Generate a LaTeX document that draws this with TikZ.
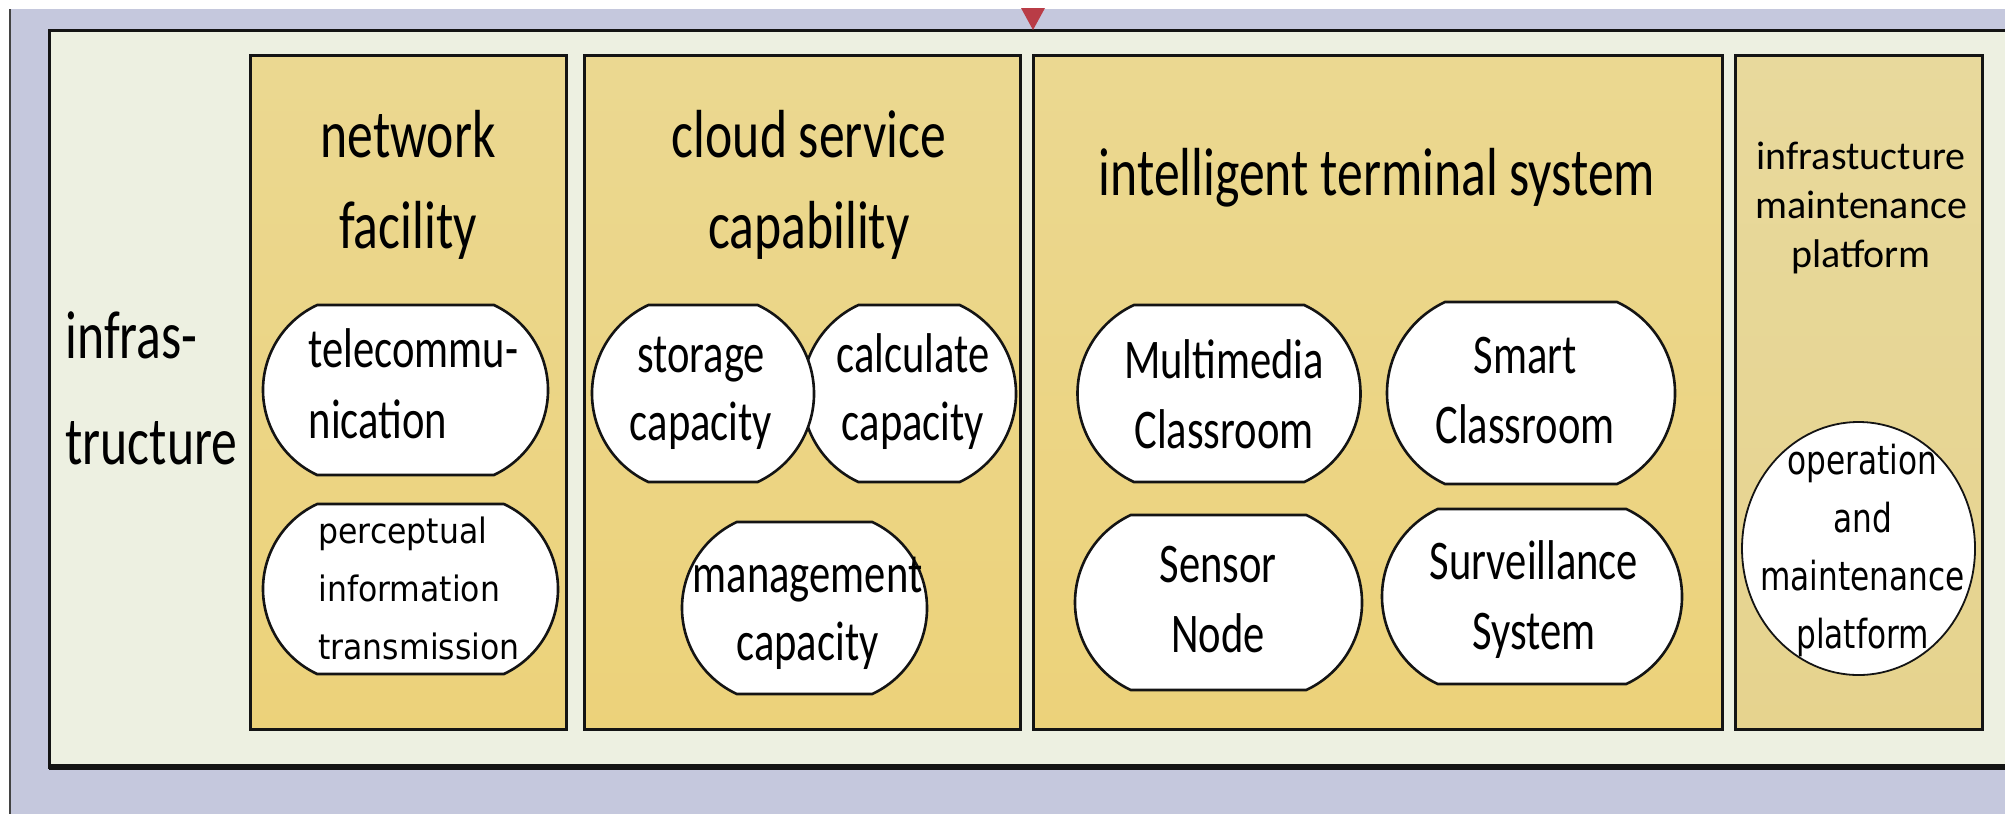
\documentclass[tikz,border=0pt]{standalone}
\usepackage{fontspec}
\setmainfont{Carlito}
\newfontfamily\narrowfont[FakeStretch=0.76]{Carlito}
\newfontfamily\percfont[FakeStretch=0.9]{DejaVu Sans}
\newfontfamily\opfont[FakeStretch=0.78]{DejaVu Sans}
\usetikzlibrary{shapes.misc,shapes.geometric}
\definecolor{lav}{RGB}{197,200,221}
\definecolor{cream}{RGB}{237,240,225}
\definecolor{goldtop}{RGB}{235,216,145}
\definecolor{goldbot}{RGB}{236,210,122}
\definecolor{paletop}{RGB}{232,217,156}
\definecolor{palebot}{RGB}{230,211,142}
\definecolor{marker}{RGB}{185,60,70}
\definecolor{ink}{RGB}{20,20,20}
\begin{document}
\begin{tikzpicture}[x=0.5pt,y=-0.5pt,
 colbox/.style={draw=ink,line width=1.5pt,top color=goldtop,bottom color=goldbot,inner sep=0pt,outer sep=0pt,minimum height=337pt},
 coltitle/.style={inner sep=0pt,align=center,font=\narrowfont\fontsize{34}{45.5}\selectfont},
 oval/.style={rounded rectangle,rounded rectangle arc length=130,draw=ink,line width=1.3pt,fill=white,inner sep=0pt},
 ovaltext/.style={inner sep=0pt,align=center,font=\narrowfont\fontsize{28}{35}\selectfont},
 cloudtext/.style={ovaltext,font=\narrowfont\fontsize{28}{34}\selectfont},
]
\useasboundingbox (0,0) rectangle (2005,814);
\clip (0,0) rectangle (2005,814);
% background
\fill[white] (0,0) rectangle (2005,814);
\fill[lav] (9,9) rectangle (2005,814);
\draw[line width=1pt,ink!80] (10,9) -- (10,814);
\draw[line width=1.5pt,draw=ink,fill=cream] (49,30) rectangle (2040,767);
\draw[line width=2.6pt,ink] (49,767) -- (2040,767);
\fill[marker] (1021,8) -- (1045,8) -- (1033,30) -- cycle;
% label of the frame
\node[inner sep=0pt,align=left,anchor=west,font=\narrowfont\fontsize{34}{53}\selectfont] (infra) at (65,390) {\strut infras-\\\strut tructure};
% columns
\node[colbox,minimum width=158pt] (netcol) at (408,392) {};
\node[colbox,minimum width=218pt] (cloudcol) at (802,392) {};
\node[colbox,minimum width=344.5pt] (termcol) at (1377.5,392) {};
\node[colbox,top color=paletop,bottom color=palebot,minimum width=123.5pt] (maintcol) at (1858.5,392) {};
% titles
\node[coltitle] (nettitle) at (408,184.3) {\strut network\\\strut facility};
\node[coltitle] (cloudtitle) at (809,184.3) {\strut cloud service\\\strut capability};
\node[coltitle,anchor=base] (termtitle) at (1377,195) {intelligent terminal system};
\node[inner sep=0pt,align=center,font=\fontsize{20}{24.5}\selectfont] (mainttitle) at (1861,209) {\strut infrastucture\\\strut maintenance\\\strut platform};
% ovals
\node[oval,minimum width=142.5pt,minimum height=85pt] (tele) at (405.5,390) {};
\node[ovaltext,align=left,font=\narrowfont\fontsize{28}{35.5}\selectfont] (telet) at (413.5,389) {\strut telecommu-\\\strut nication};
\node[oval,minimum width=147.5pt,minimum height=85pt] (perc) at (410.5,589) {};
\node[inner sep=0pt,align=left,font=\percfont\fontsize{17.5}{29}\selectfont] (perct) at (419,590) {\strut perceptual\\\strut information\\\strut transmission};
\node[oval,minimum width=107pt,minimum height=88.5pt] (calc) at (909,393.5) {};
\node[oval,minimum width=111pt,minimum height=88.5pt] (store) at (703,393.5) {};
\node[cloudtext] (storet) at (701,392.4) {\strut storage\\\strut capacity};
\node[cloudtext] (calct) at (913,392.4) {\strut calculate\\\strut capacity};
\node[oval,minimum width=122.5pt,minimum height=86pt] (mgmt) at (804.5,608) {};
\node[cloudtext] (mgmtt) at (807.5,612.4) {\strut management\\\strut capacity};
\node[oval,minimum width=141.5pt,minimum height=88.5pt] (mm) at (1219,393.5) {};
\node[ovaltext] (mmt) at (1224,399) {\strut Multimedia\\\strut Classroom};
\node[oval,minimum width=144pt,minimum height=91pt] (smart) at (1531,393) {};
\node[ovaltext] (smartt) at (1525,394) {\strut Smart\\\strut Classroom};
\node[oval,minimum width=143.5pt,minimum height=87.5pt] (sensor) at (1218.5,602.5) {};
\node[ovaltext] (sensort) at (1218,603) {\strut Sensor\\\strut Node};
\node[oval,minimum width=150pt,minimum height=87.5pt] (surv) at (1532,596.5) {};
\node[ovaltext] (survt) at (1534,600) {\strut Surveillance\\\strut System};
\node[ellipse,draw=ink,line width=0.9pt,fill=white,minimum width=116.5pt,minimum height=126.5pt,inner sep=0pt] (op) at (1858.5,548.5) {};
\node[inner sep=0pt,align=center,font=\opfont\fontsize{20}{29}\selectfont] (opt) at (1862.5,549.4) {\strut operation\\\strut and\\\strut maintenance\\\strut platform};
\end{tikzpicture}
\end{document}
